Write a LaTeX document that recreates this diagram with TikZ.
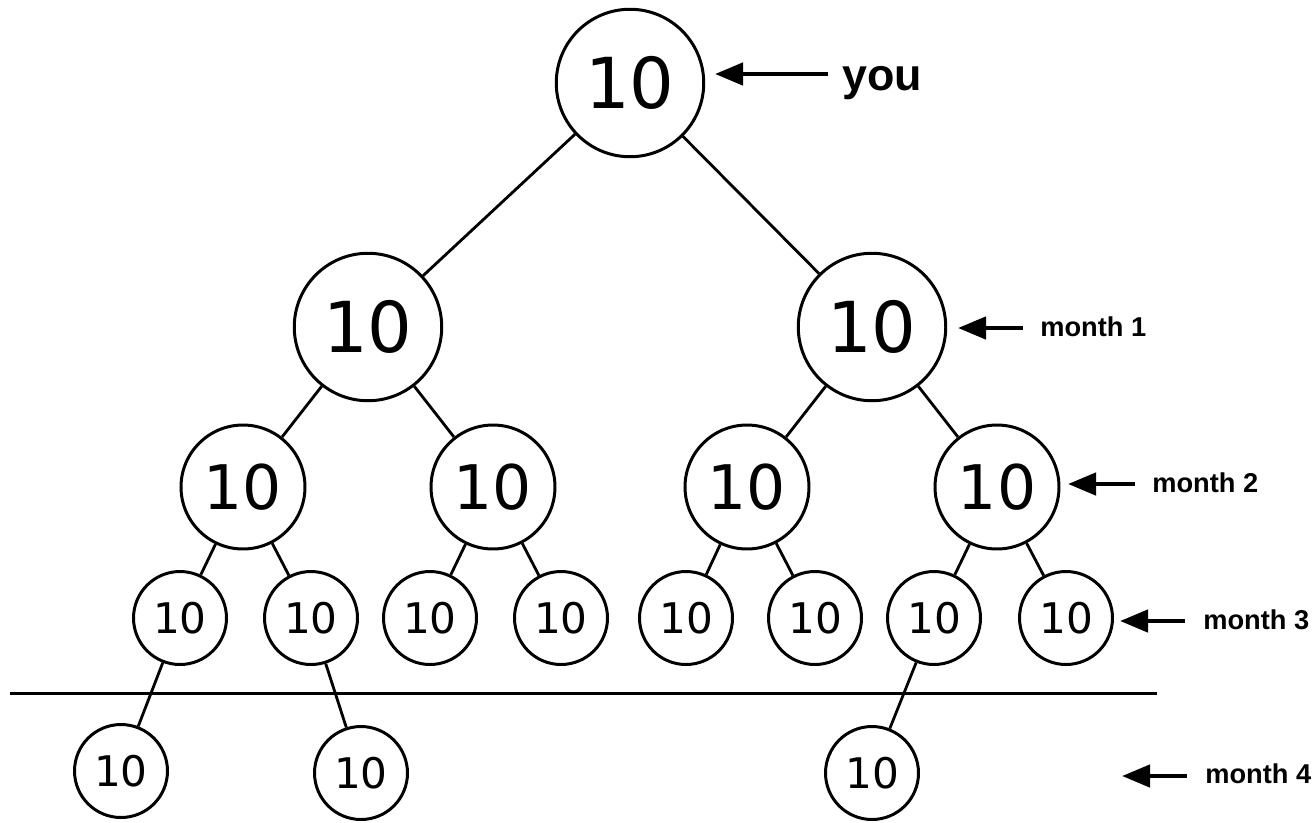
\documentclass[tikz,border=0pt]{standalone}
\usepackage{fontspec}
\setmainfont{DejaVu Sans}
\newfontfamily\labelfont{Liberation Sans}
\usetikzlibrary{arrows.meta}

\begin{document}
\begin{tikzpicture}[
                x=0.02cm, y=-0.02cm,
                person/.style={draw, circle, line width=1.7pt, inner sep=0pt},
                bignode/.style={person, minimum size=2.95cm,
                        font=\fontsize{40}{44}\selectfont},
                midnode/.style={person, minimum size=2.48cm,
                        font=\fontsize{35}{40}\selectfont},
                smallnode/.style={person, minimum size=1.86cm,
                        font=\fontsize{24}{28}\selectfont},
                link/.style={line width=1.6pt},
                cutline/.style={line width=1.7pt},
                arrow/.style={-{Triangle[length=0.56cm, width=0.44cm]},
                        line width=2.6pt},
                tag/.style={anchor=base west, inner sep=0pt,
                        font=\labelfont\bfseries\fontsize{15.5}{18}\selectfont},
            ]
            \useasboundingbox (0,0) rectangle (1314,822);

            % the tree
            \node[bignode] (root) at (630,83) {10};
            \node[bignode] (l1a) at (368,327) {10};
            \node[bignode] (l1b) at (872,327) {10};

            \node[midnode] (l2a) at (243,487) {10};
            \node[midnode] (l2b) at (493,487) {10};
            \node[midnode] (l2c) at (747,487) {10};
            \node[midnode] (l2d) at (997,487) {10};

            \node[smallnode] (l3a) at (180,618) {10};
            \node[smallnode] (l3b) at (311,618) {10};
            \node[smallnode] (l3c) at (430,618) {10};
            \node[smallnode] (l3d) at (561,618) {10};
            \node[smallnode] (l3e) at (686,618) {10};
            \node[smallnode] (l3f) at (815,618) {10};
            \node[smallnode] (l3g) at (934,618) {10};
            \node[smallnode] (l3h) at (1066,618) {10};

            \node[smallnode] (l4a) at (121,771) {10};
            \node[smallnode] (l4b) at (361,773) {10};
            \node[smallnode] (l4c) at (872,773) {10};

            \draw[link] (root) -- (l1a);
            \draw[link] (root) -- (l1b);
            \draw[link] (l1a) -- (l2a);
            \draw[link] (l1a) -- (l2b);
            \draw[link] (l1b) -- (l2c);
            \draw[link] (l1b) -- (l2d);
            \draw[link] (l2a) -- (l3a);
            \draw[link] (l2a) -- (l3b);
            \draw[link] (l2b) -- (l3c);
            \draw[link] (l2b) -- (l3d);
            \draw[link] (l2c) -- (l3e);
            \draw[link] (l2c) -- (l3f);
            \draw[link] (l2d) -- (l3g);
            \draw[link] (l2d) -- (l3h);
            \draw[link] (l3a) -- (l4a);
            \draw[link] (l3b) -- (l4b);
            \draw[link] (l3g) -- (l4c);

            % cut between month 3 and month 4
            \coordinate (cutleft) at (10,693);
            \coordinate (cutright) at (1157,693);
            \draw[cutline] (cutleft) -- (cutright);

            % labels on the right
            \coordinate (youtail) at (828,74);
            \coordinate (youtip) at (715,74);
            \coordinate (m1tail) at (1023,328);
            \coordinate (m1tip) at (958,328);
            \coordinate (m2tail) at (1135,484);
            \coordinate (m2tip) at (1068,484);
            \coordinate (m3tail) at (1185,621);
            \coordinate (m3tip) at (1120,621);
            \coordinate (m4tail) at (1187,776);
            \coordinate (m4tip) at (1122,776);

            \draw[arrow] (youtail) -- (youtip);
            \draw[arrow] (m1tail) -- (m1tip);
            \draw[arrow] (m2tail) -- (m2tip);
            \draw[arrow] (m3tail) -- (m3tip);
            \draw[arrow] (m4tail) -- (m4tip);

            \node[tag, font=\labelfont\bfseries\fontsize{25.5}{30}\selectfont]
                (you) at (842,90) {you};
            \node[tag] (month1) at (1040,336) {month 1};
            \node[tag] (month2) at (1152,492) {month 2};
            \node[tag] (month3) at (1203,629) {month 3};
            \node[tag] (month4) at (1205,783) {month 4};
        \end{tikzpicture}
\end{document}
